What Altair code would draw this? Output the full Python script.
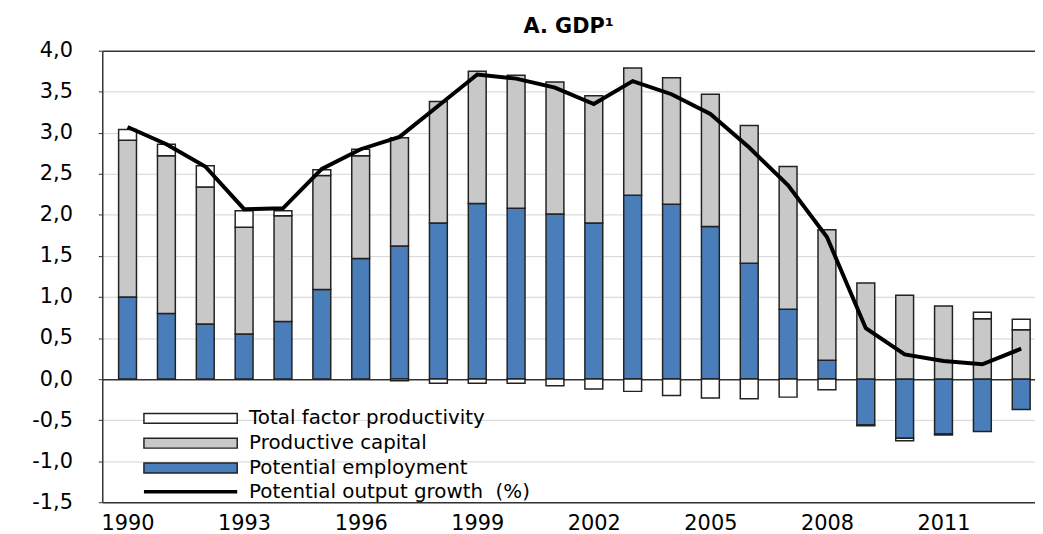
import altair as alt
import pandas as pd

# ---- data ----
years = list(range(1990, 2014))
employment = [1.00, 0.80, 0.67, 0.55, 0.70, 1.09, 1.47, 1.62, 1.90, 2.14, 2.08, 2.01,
              1.90, 2.24, 2.13, 1.86, 1.41, 0.85, 0.23, -0.56, -0.72, -0.67, -0.64, -0.37]
capital = [1.91, 1.92, 1.67, 1.30, 1.29, 1.39, 1.25, 1.32, 1.48, 1.61, 1.62, 1.61,
           1.55, 1.55, 1.54, 1.61, 1.68, 1.74, 1.59, 1.17, 1.02, 0.89, 0.735, 0.60]
tfp = [0.13, 0.14, 0.26, 0.20, 0.06, 0.07, 0.08, -0.02, -0.05, -0.05, -0.05, -0.08,
       -0.12, -0.15, -0.20, -0.23, -0.24, -0.22, -0.13, -0.01, -0.03, -0.01, 0.08, 0.13]
potential = [3.07, 2.86, 2.59, 2.07, 2.08, 2.56, 2.80, 2.95, 3.33, 3.71, 3.66, 3.55,
             3.35, 3.63, 3.47, 3.23, 2.82, 2.36, 1.73, 0.62, 0.30, 0.22, 0.18, 0.37]

series_names = ["Total factor productivity", "Productive capital", "Potential employment"]
series_colors = ["#ffffff", "#c8c8c8", "#4a7ebb"]
line_name = "Potential output growth\u00a0\u00a0(%)"
x_ticks = [1990, 1993, 1996, 1999, 2002, 2005, 2008, 2011]
y_ticks = [-1.5, -1.0, -0.5, 0.0, 0.5, 1.0, 1.5, 2.0, 2.5, 3.0, 3.5, 4.0]
chart_title = "A. GDP\u00b9"

rows = []
for i, yr in enumerate(years):
    rows.append({"year": yr, "series": series_names[2], "value": employment[i], "ord": 0})
    rows.append({"year": yr, "series": series_names[1], "value": capital[i], "ord": 1})
    rows.append({"year": yr, "series": series_names[0], "value": tfp[i], "ord": 2})
bars_df = pd.DataFrame(rows)
line_df = pd.DataFrame({"year": years, "value": potential, "series": [line_name] * len(years)})

FONT = "DejaVu Sans"

x_scale = alt.Scale(domain=[1989.477, 2013.227], nice=False, zero=False)
y_scale = alt.Scale(domain=[-1.5, 4.0], nice=False, zero=False)

x_axis = alt.Axis(values=x_ticks, format="d", title=None, grid=False, ticks=False,
                  labelFontSize=21, labelFont=FONT, labelColor="black", labelPadding=11,
                  labelFlush=False, domainColor="#333333", domainWidth=1.5)
y_axis = alt.Axis(values=y_ticks, title=None,
                  labelExpr="replace(replace(format(datum.value, '.1f'), '.', ','), '\u2212', '-')",
                  labelFontSize=21, labelFont=FONT, labelColor="black", labelPadding=26,
                  tickSize=4, tickColor="#333333", domainColor="#333333", domainWidth=1.5,
                  grid=True,
                  gridColor={"condition": {"test": "datum.value === 0 || datum.value === 4",
                                           "value": "#333333"}, "value": "#d4d4d4"},
                  gridWidth={"condition": {"test": "datum.value === 0 || datum.value === 4",
                                           "value": 1.5}, "value": 1})

rect_path = "M-1,-1L17.8,-1L17.8,1L-1,1Z"
line_path = "M-1,0L17.8,0"

bars = alt.Chart(bars_df).mark_bar(size=18, stroke="#222222", strokeWidth=1.5, clip=True).encode(
    x=alt.X("year:Q", scale=x_scale, axis=x_axis),
    y=alt.Y("value:Q", stack="zero", scale=y_scale, axis=y_axis),
    fill=alt.Fill("series:N",
                  scale=alt.Scale(domain=series_names, range=series_colors),
                  legend=alt.Legend(title=None, orient="none", legendX=37, legendY=360.5,
                                    symbolType=rect_path, symbolSize=100,
                                    symbolStrokeColor="#222222", symbolStrokeWidth=1.5,
                                    symbolOpacity=1,
                                    labelFontSize=20, labelFont=FONT, labelColor="black",
                                    labelLimit=600, labelOffset=91, rowPadding=5, padding=0)),
    order=alt.Order("ord:Q"),
)

line = alt.Chart(line_df).mark_line(strokeWidth=4, clip=True).encode(
    x=alt.X("year:Q", scale=x_scale, axis=x_axis),
    y=alt.Y("value:Q", scale=y_scale, axis=y_axis),
    stroke=alt.Stroke("series:N",
                      scale=alt.Scale(domain=[line_name], range=["#000000"]),
                      legend=alt.Legend(title=None, orient="none", legendX=37, legendY=434.5,
                                        symbolType=line_path, symbolSize=100,
                                        symbolStrokeWidth=3.5,
                                        labelFontSize=20, labelFont=FONT, labelColor="black",
                                        labelLimit=600, labelOffset=91, padding=0)),
)

chart = alt.layer(bars, line).resolve_legend(fill="independent", stroke="independent").properties(
    width=940,
    height=455,
    title=alt.Title(chart_title, fontSize=21, fontWeight="bold", font=FONT, color="black",
                    anchor="middle", frame="group", offset=3),
    padding={"left": 95, "top": 41, "right": 0, "bottom": 30},
    autosize=alt.AutoSizeParams(type="none"),
).configure_view(stroke=None)

chart.save("out.html", embed_options={"renderer": "svg", "actions": False})
